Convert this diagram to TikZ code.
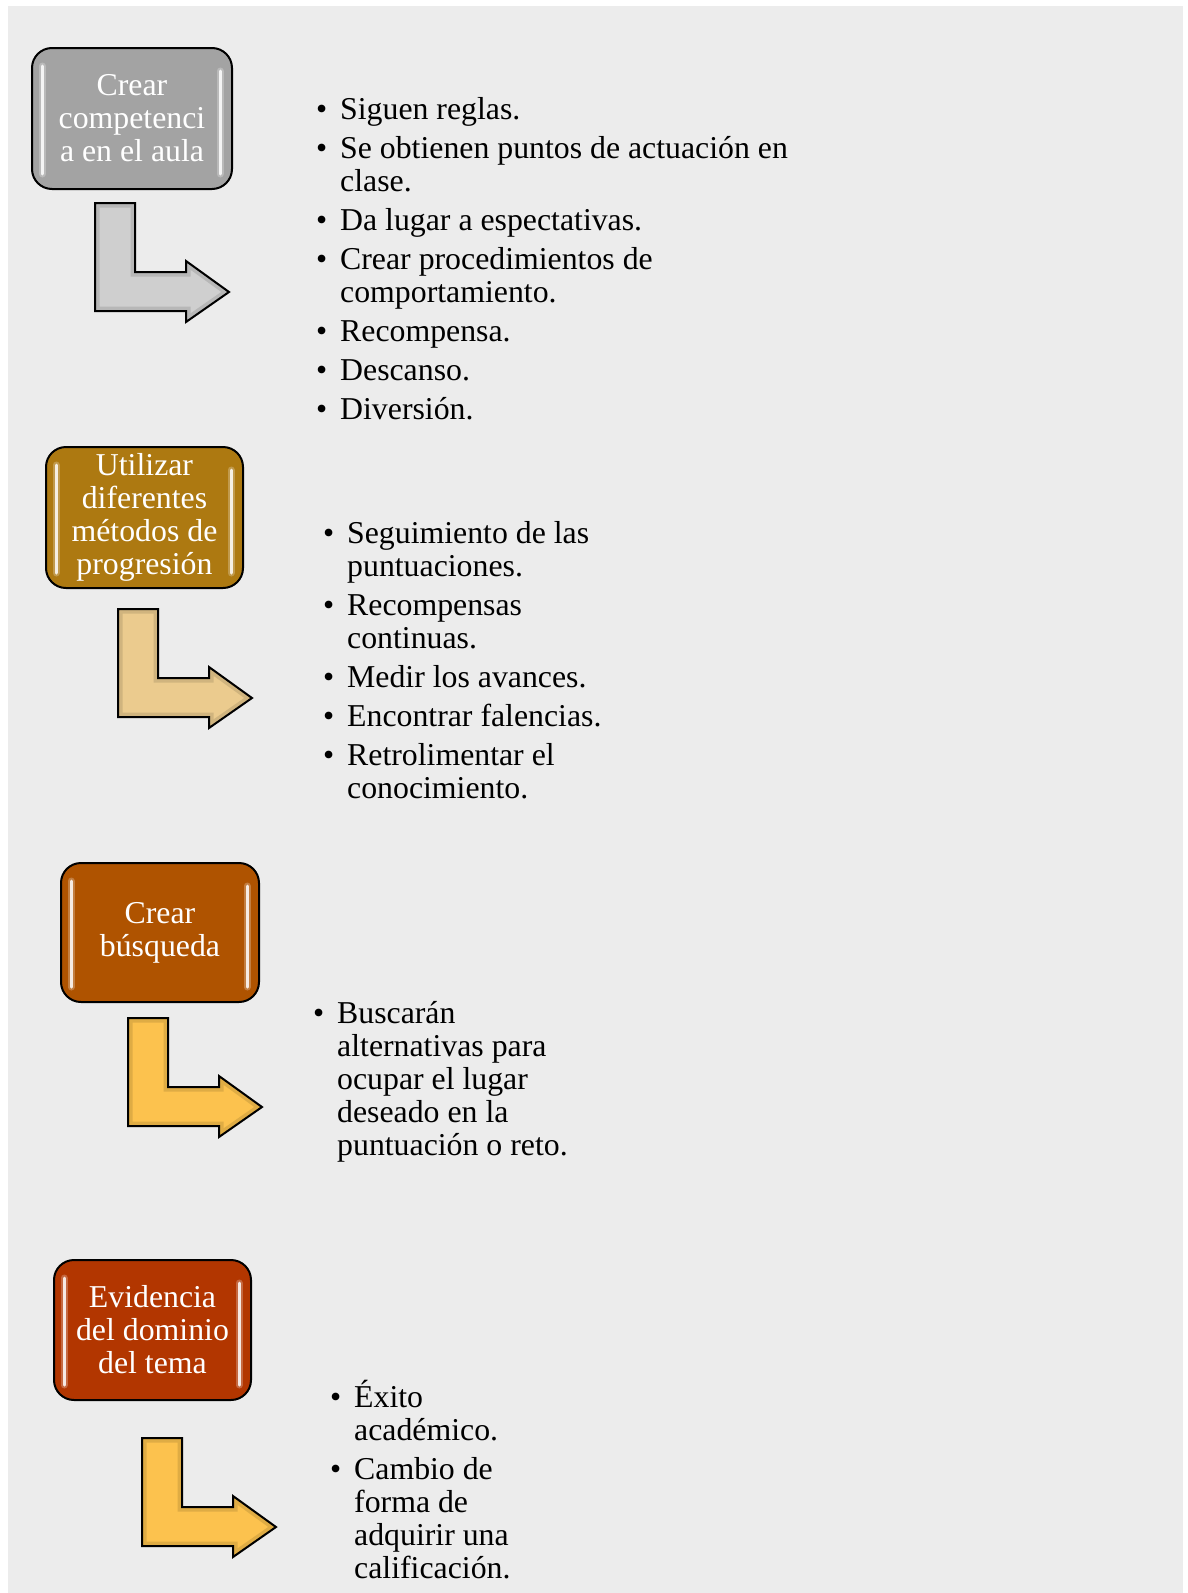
\documentclass[tikz,border=0pt]{standalone}
\usepackage{fontspec}
\setmainfont{Liberation Serif}
\usepackage{xcolor}

\definecolor{fondo}{HTML}{ECECEC}
\definecolor{cajagris}{HTML}{A3A3A3}
\definecolor{cajaoro}{HTML}{AD7911}
\definecolor{cajanaranja}{HTML}{AF5300}
\definecolor{cajarojo}{HTML}{B23600}
\definecolor{flechagris}{HTML}{CFCFCF}
\definecolor{flechaarena}{HTML}{EBCB8E}
\definecolor{flechaoro}{HTML}{FCC24E}

\newcommand{\punto}{\makebox[24pt][l]{\textbullet}}

\begin{document}
\begin{tikzpicture}[x=1pt,y=-1pt,
  caja/.style={draw=black,line width=2pt,rounded corners=20pt,text=white,align=center,
    inner sep=0pt,font=\fontsize{31.8}{33}\selectfont},
  lista/.style={anchor=base west,inner sep=0pt,font=\fontsize{31.8}{33}\selectfont},
  brillo/.style={white,line width=3pt,line cap=round,opacity=0.85},
  halo/.style={white,line width=7pt,line cap=round,opacity=0.25},
  pics/codo/.style={code={
    \path[fill=#1] (0,0) -- (40,0) -- (40,69) -- (91,69) -- (91,58) -- (134,89)
      -- (91,119) -- (91,108) -- (0,108) -- cycle;
    \begin{scope}
    \clip (0,0) -- (40,0) -- (40,69) -- (91,69) -- (91,58) -- (134,89)
      -- (91,119) -- (91,108) -- (0,108) -- cycle;
    \draw[#1!75!black,line width=9pt,opacity=0.45] (0,0) -- (40,0) -- (40,69) -- (91,69) -- (91,58) -- (134,89)
      -- (91,119) -- (91,108) -- (0,108) -- cycle;
    \end{scope}
    \draw[black,line width=2pt,line join=miter] (0,0) -- (40,0) -- (40,69) -- (91,69) -- (91,58) -- (134,89)
      -- (91,119) -- (91,108) -- (0,108) -- cycle;}}]
\useasboundingbox (0,0) rectangle (1188,1593);
\fill[white] (0,0) rectangle (1188,1593);
\fill[fondo] (8,6) rectangle (1183,1593);

% cajas
\node[caja,fill=cajagris,minimum width=200pt,minimum height=141pt] (competencia) at (132,118.5) {Crear\\competenci\\a en el aula};
\node[caja,fill=cajaoro,minimum width=197pt,minimum height=141pt] (metodos) at (144.5,517.5) {Utilizar\\diferentes\\métodos de\\progresión};
\node[caja,fill=cajanaranja,minimum width=198pt,minimum height=139pt] (busqueda) at (160,932.5) {Crear\\búsqueda};
\node[caja,fill=cajarojo,minimum width=197pt,minimum height=140pt] (dominio) at (152.5,1330) {Evidencia\\del dominio\\del tema};

% brillos
\foreach \c in {competencia,metodos,busqueda,dominio}{
  \draw[halo] ([xshift=11pt,yshift=-19pt]\c.north west) -- ([xshift=11pt,yshift=16pt]\c.south west);
  \draw[halo] ([xshift=-13pt,yshift=-24pt]\c.north east) -- ([xshift=-13pt,yshift=16pt]\c.south east);
  \draw[brillo] ([xshift=11pt,yshift=-19pt]\c.north west) -- ([xshift=11pt,yshift=16pt]\c.south west);
  \draw[brillo] ([xshift=-13pt,yshift=-24pt]\c.north east) -- ([xshift=-13pt,yshift=16pt]\c.south east);
}

% flechas
\pic at (95,203) {codo=flechagris};
\pic at (118,609) {codo=flechaarena};
\pic at (128,1018) {codo=flechaoro};
\pic at (142,1438) {codo=flechaoro};

% listas
\node[lista] (reglas) at (316,119) {\begin{tabular}[t]{@{}l@{}l@{}}
\punto & Siguen reglas.\\[6pt]
\punto & Se obtienen puntos de actuación en\\
 & clase.\\[6pt]
\punto & Da lugar a espectativas.\\[6pt]
\punto & Crear procedimientos de\\
 & comportamiento.\\[6pt]
\punto & Recompensa.\\[6pt]
\punto & Descanso.\\[6pt]
\punto & Diversión.
\end{tabular}};

\node[lista] (avances) at (323,543) {\begin{tabular}[t]{@{}l@{}l@{}}
\punto & Seguimiento de las\\
 & puntuaciones.\\[6pt]
\punto & Recompensas\\
 & continuas.\\[6pt]
\punto & Medir los avances.\\[6pt]
\punto & Encontrar falencias.\\[6pt]
\punto & Retrolimentar el\\
 & conocimiento.
\end{tabular}};

\node[lista] (alternativas) at (313,1023) {\begin{tabular}[t]{@{}l@{}l@{}}
\punto & Buscarán\\
 & alternativas para\\
 & ocupar el lugar\\
 & deseado en la\\
 & puntuación o reto.
\end{tabular}};

\node[lista] (exito) at (330,1407) {\begin{tabular}[t]{@{}l@{}l@{}}
\punto & Éxito\\
 & académico.\\[6pt]
\punto & Cambio de\\
 & forma de\\
 & adquirir una\\
 & calificación.
\end{tabular}};
\end{tikzpicture}
\end{document}
